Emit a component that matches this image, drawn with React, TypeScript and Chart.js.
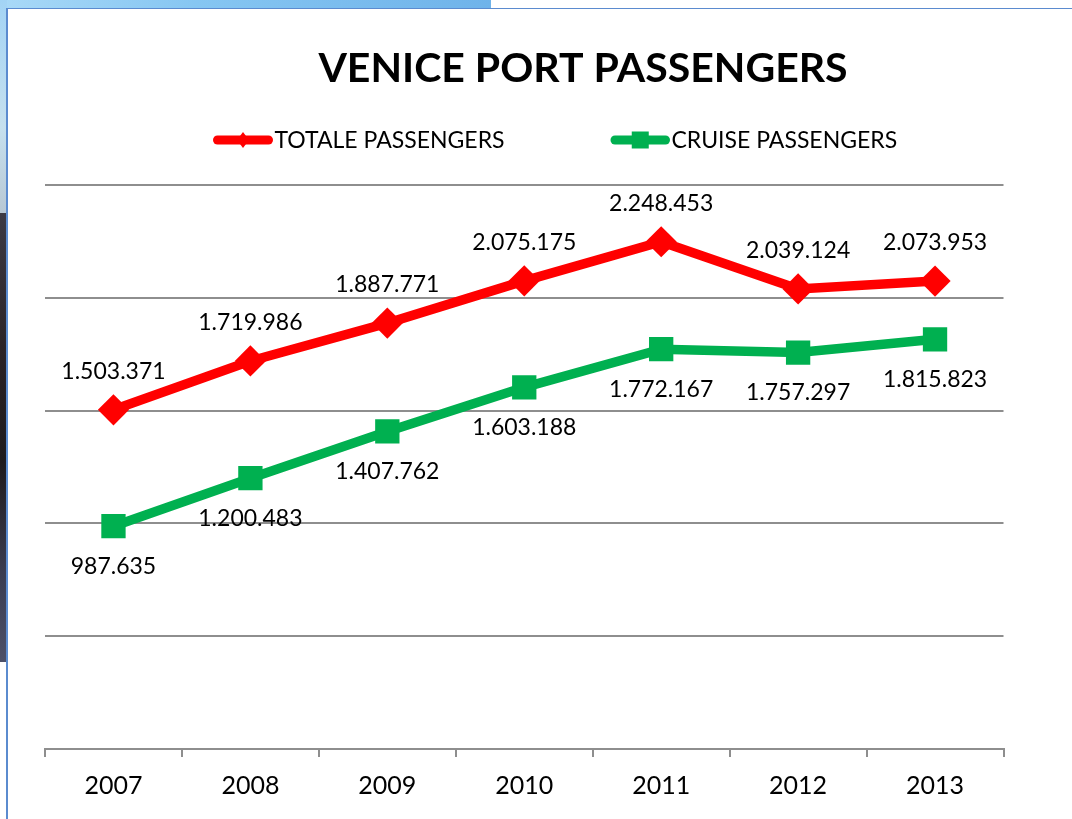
import React, { useEffect, useRef } from "react";
import { Chart, registerables } from "chart.js";

Chart.register(...registerables);

const chartTitle = "VENICE PORT PASSENGERS";
const years = ["2007", "2008", "2009", "2010", "2011", "2012", "2013"];
const totalPassengers = [1503371, 1719986, 1887771, 2075175, 2248453, 2039124, 2073953];
const cruisePassengers = [987635, 1200483, 1407762, 1603188, 1772167, 1757297, 1815823];
const seriesNames = ["TOTALE PASSENGERS", "CRUISE PASSENGERS"];
const seriesColors = ["#ff0000", "#00b050"];
const yMin = 0;
const yMax = 2500000;
const yStep = 500000;

const FONT = "Lato, 'Open Sans', 'DejaVu Sans', sans-serif";

function formatNumber(v: number): string {
  return String(v).replace(/\B(?=(\d{3})+(?!\d))/g, ".");
}

const dataLabelPlugin = {
  id: "dataLabels",
  afterDatasetsDraw(chart: any) {
    const ctx = chart.ctx;
    ctx.save();
    ctx.font = `23px ${FONT}`;
    ctx.fillStyle = "#000000";
    ctx.textAlign = "center";
    ctx.textBaseline = "middle";
    chart.data.datasets.forEach((ds: any, di: number) => {
      const meta = chart.getDatasetMeta(di);
      meta.data.forEach((pt: any, i: number) => {
        const off = di === 0 ? -38.5 : 40.5;
        ctx.fillText(formatNumber(ds.data[i]), pt.x, pt.y + off);
      });
    });
    ctx.restore();
  },
};

const headerPlugin = {
  id: "header",
  afterDraw(chart: any) {
    const ctx = chart.ctx;
    ctx.save();
    // title
    ctx.font = `bold 41px ${FONT}`;
    ctx.fillStyle = "#000000";
    ctx.textAlign = "center";
    ctx.textBaseline = "alphabetic";
    ctx.fillText(chartTitle, 575, 73);

    // legend
    const items = [
      { x0: 205, x1: 265, text: 266.5, style: "diamond" },
      { x0: 602.5, x1: 662, text: 663.5, style: "square" },
    ];
    const ly = 131;
    items.forEach((it, i) => {
      const color = seriesColors[i];
      ctx.strokeStyle = color;
      ctx.fillStyle = color;
      ctx.lineWidth = 9;
      ctx.lineCap = "round";
      ctx.beginPath();
      ctx.moveTo(it.x0 + 4.5, ly);
      ctx.lineTo(it.x1 - 4.5, ly);
      ctx.stroke();
      const cx = (it.x0 + it.x1) / 2;
      if (it.style === "diamond") {
        ctx.beginPath();
        ctx.moveTo(cx, ly - 8);
        ctx.lineTo(cx + 6, ly);
        ctx.lineTo(cx, ly + 8);
        ctx.lineTo(cx - 6, ly);
        ctx.closePath();
        ctx.fill();
      } else {
        ctx.fillRect(cx - 8.5, ly - 8.5, 17, 17);
      }
      ctx.fillStyle = "#000000";
      ctx.font = `23px ${FONT}`;
      ctx.textAlign = "left";
      ctx.textBaseline = "alphabetic";
      ctx.fillText(seriesNames[i], it.text, 139);
    });
    ctx.restore();
  },
};

export default function App() {
  const canvasRef = useRef<HTMLCanvasElement | null>(null);

  useEffect(() => {
    if (!canvasRef.current) return;
    const gridColor = "#8e8e8e";
    const chart = new Chart(canvasRef.current, {
      type: "line",
      data: {
        labels: years,
        datasets: [
          {
            label: seriesNames[0],
            data: totalPassengers,
            borderColor: seriesColors[0],
            backgroundColor: seriesColors[0],
            borderWidth: 9.5,
            pointStyle: "rectRot",
            pointRadius: 15.6,
            pointBorderWidth: 0,
            pointBackgroundColor: seriesColors[0],
            tension: 0,
          },
          {
            label: seriesNames[1],
            data: cruisePassengers,
            borderColor: seriesColors[1],
            backgroundColor: seriesColors[1],
            borderWidth: 9.5,
            pointStyle: "rect",
            pointRadius: 17.2,
            pointBorderWidth: 0,
            pointBackgroundColor: seriesColors[1],
            tension: 0,
          },
        ],
      },
      options: {
        animation: false,
        responsive: false,
        maintainAspectRatio: false,
        devicePixelRatio: 1,
        layout: { padding: { left: 37, right: 68.5, top: 176, bottom: 0 } },
        plugins: {
          legend: { display: false },
          title: { display: false },
          tooltip: { enabled: false },
        },
        scales: {
          x: {
            offset: true,
            grid: {
              offset: true,
              drawOnChartArea: false,
              drawTicks: true,
              tickLength: 8,
              color: gridColor,
              lineWidth: 2,
            },
            border: { display: true, color: gridColor, width: 2 },
            ticks: {
              color: "#000000",
              font: { family: FONT, size: 25 },
              padding: 14,
              maxRotation: 0,
            },
            afterFit(scale: any) {
              scale.height = 70;
            },
          },
          y: {
            min: yMin,
            max: yMax,
            grid: { color: gridColor, lineWidth: 2, drawTicks: false },
            border: { display: false },
            ticks: { display: false, stepSize: yStep },
            afterFit(scale: any) {
              scale.width = 0;
            },
          },
        },
      },
      plugins: [dataLabelPlugin, headerPlugin],
    });
    return () => chart.destroy();
  }, []);

  return (
    <div style={{ position: "fixed", left: 0, top: 0, width: 1072, height: 819, background: "#ffffff", overflow: "hidden" }}>
      <div style={{ position: "absolute", left: 0, top: 0, width: 491, height: 8, background: "linear-gradient(to right, #a9d9f7, #86c6f2 40%, #6fb3ea)" }} />
      <div style={{ position: "absolute", left: 0, top: 0, width: 7, height: 213, background: "linear-gradient(to bottom, #a3d4f5, #c6e0ee 60%, #b8c8d4)" }} />
      <div style={{ position: "absolute", left: 0, top: 213, width: 7, height: 449, background: "linear-gradient(to bottom, #3c3a44, #2b2327 30%, #1e1a1c 55%, #3a3c50 80%, #4c5068)" }} />
      <div style={{ position: "absolute", left: 7, top: 8, width: 1065, height: 1, background: "#5b8bcf" }} />
      <div style={{ position: "absolute", left: 6, top: 8, width: 1.5, height: 811, background: "#5b8bcf" }} />
      <canvas
        ref={canvasRef}
        width={1064}
        height={810}
        style={{ position: "absolute", left: 8, top: 9, width: 1064, height: 810, background: "#ffffff" }}
      />
    </div>
  );
}
